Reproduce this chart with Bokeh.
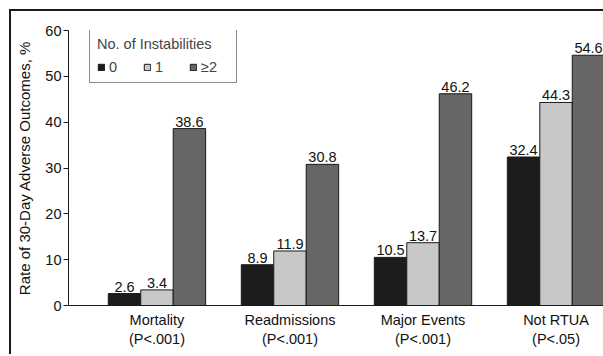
from bokeh.plotting import figure
from bokeh.models import (Range1d, FixedTicker, Legend, LegendItem, ColumnDataSource,
                          GlobalInlineStyleSheet)
from bokeh.core.properties import value
from bokeh.embed import file_html
from bokeh.resources import INLINE

categories = ["Mortality\n(P<.001)", "Readmissions\n(P<.001)", "Major Events\n(P<.001)", "Not RTUA\n(P<.05)"]
series_names = ["0", "1", "\u22652"]
vals_0 = [2.6, 8.9, 10.5, 32.4]
vals_1 = [3.4, 11.9, 13.7, 44.3]
vals_2 = [38.6, 30.8, 46.2, 54.6]
y_ticks = [0, 10, 20, 30, 40, 50, 60]

colors = ["#1c1c1c", "#c8c8c8", "#666666"]
FONT = "Liberation Sans"
FS = "14.5px"

p = figure(width=600, height=345, output_backend="svg", toolbar_location=None, tools="",
           x_range=Range1d(-0.665, 3.417), y_range=Range1d(0, 60),
           min_border_left=57, min_border_right=0, min_border_top=19, min_border_bottom=51,
           border_fill_color=None, background_fill_color=None,
           stylesheets=[GlobalInlineStyleSheet(css="html, body { overflow: hidden !important; }")],
           styles={"margin-left": "9px", "margin-top": "9px",
                   "background-color": "white",
                   "border-top": "2px solid #1a1a1a", "border-left": "2px solid #1a1a1a"})
p.outline_line_color = None
p.xgrid.visible = False
p.ygrid.visible = False

bw = 0.244
renderers = []
for j, (vals, c) in enumerate(zip([vals_0, vals_1, vals_2], colors)):
    xs = [i + (j - 1) * bw for i in range(len(categories))]
    src = ColumnDataSource(dict(x=xs, top=vals, lab=[f"{v:.1f}" for v in vals]))
    r = p.vbar(x="x", top="top", width=bw, bottom=0, source=src,
               fill_color=c, line_color="#1a1a1a", line_width=1)
    renderers.append(r)
    p.text(x="x", y="top", text="lab", source=src, text_align="center",
           text_baseline="bottom", y_offset=-2, text_font=value(FONT),
           text_font_size=value(FS), text_color="#111111")

# axes
p.xaxis.ticker = FixedTicker(ticks=list(range(len(categories))))
p.xaxis.major_label_overrides = {i: c for i, c in enumerate(categories)}
p.xaxis.major_tick_out = 0
p.xaxis.major_tick_in = 0
p.xaxis.minor_tick_line_color = None
p.xaxis.major_label_standoff = 6
p.xaxis.axis_line_color = "#1a1a1a"

p.yaxis.ticker = FixedTicker(ticks=y_ticks)
p.yaxis.major_tick_out = 5
p.yaxis.major_tick_in = 0
p.yaxis.minor_tick_line_color = None
p.yaxis.major_label_standoff = 2
p.yaxis.axis_label = "Rate of 30-Day Adverse Outcomes, %"
p.yaxis.axis_label_standoff = 9
p.yaxis.axis_line_color = "#1a1a1a"
p.yaxis.major_tick_line_color = "#1a1a1a"

for ax in (p.xaxis[0], p.yaxis[0]):
    ax.major_label_text_font = FONT
    ax.major_label_text_font_size = FS
    ax.major_label_text_color = "#111111"
    ax.axis_label_text_font = FONT
    ax.axis_label_text_font_size = "15px"
    ax.axis_label_text_font_style = "normal"
    ax.axis_label_text_color = "#111111"

legend = Legend(items=[LegendItem(label=n, renderers=[r]) for n, r in zip(series_names, renderers)],
                title="No. of Instabilities", orientation="horizontal", location=(21, 222),
                margin=0, padding=7, spacing=6, glyph_width=8, glyph_height=8,
                label_standoff=4, label_width=28, label_height=17, title_standoff=6,
                border_line_color="#1a1a1a", border_line_width=1,
                background_fill_color="white", background_fill_alpha=1.0,
                label_text_font=FONT, label_text_font_size=FS,
                title_text_font=FONT, title_text_font_size=FS, title_text_font_style="normal")
p.add_layout(legend, "center")

open("out.html", "w").write(file_html(p, INLINE))
